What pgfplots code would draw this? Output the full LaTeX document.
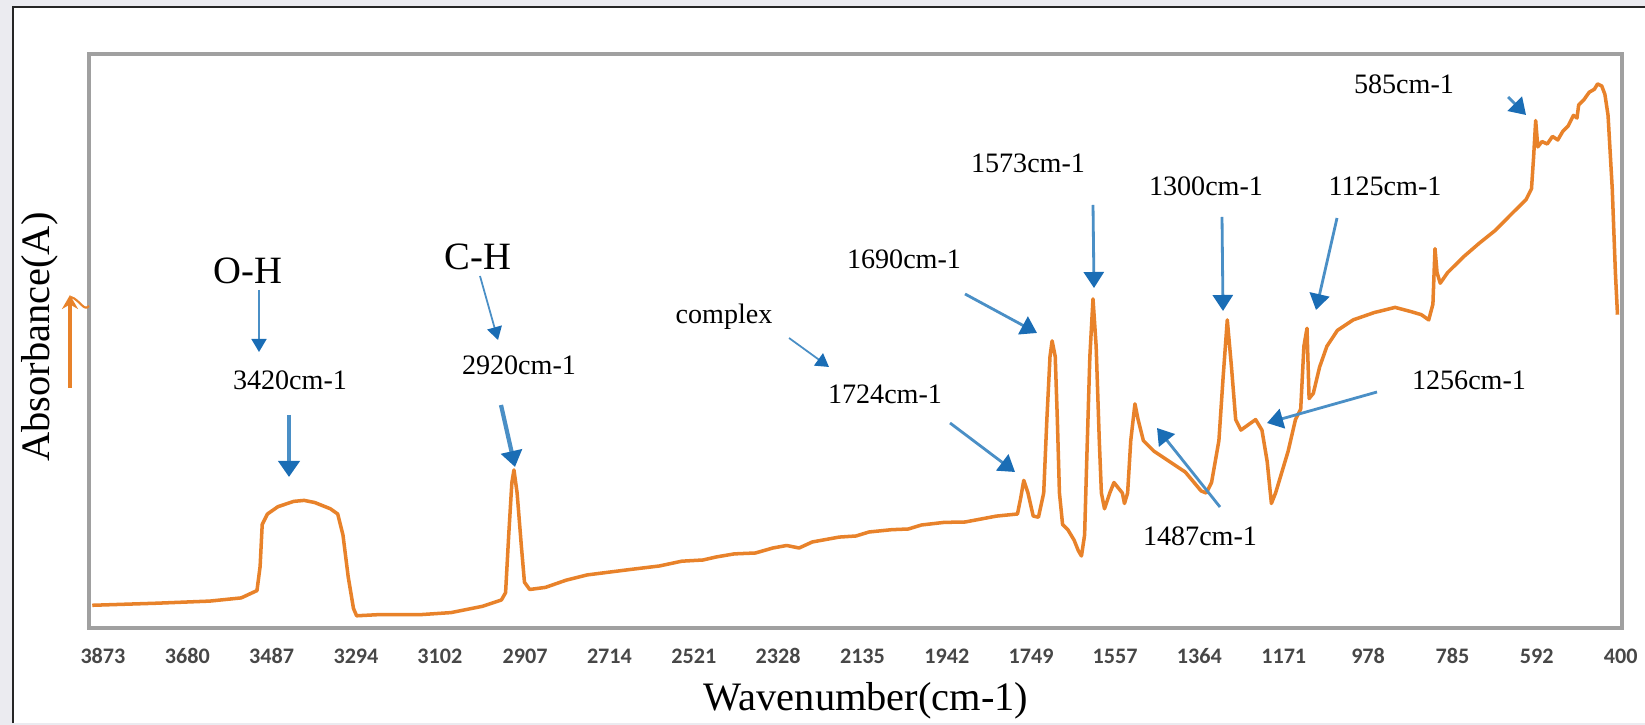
\documentclass[border=0pt]{standalone}
\usepackage{fontspec}
\setmainfont{Liberation Serif}
\newfontfamily\tickfont{Carlito}
\usepackage{pgfplots}
\pgfplotsset{compat=1.18}
\usetikzlibrary{arrows.meta}
\definecolor{spec}{HTML}{E8822A}
\definecolor{boxgray}{HTML}{A0A0A0}
\definecolor{arrline}{HTML}{4A8FC6}
\definecolor{arrhead}{HTML}{1A6DB5}
\definecolor{bg}{HTML}{EBEBF0}
\newcommand{\ann}{\fontsize{8}{9.6}\selectfont}
\newcommand{\bigann}{\fontsize{11}{13}\selectfont}
\begin{document}
\begin{tikzpicture}
\path[use as bounding box] (0,0) rectangle (164.5mm,72.5mm);
\fill[bg] (0,0) rectangle (164.5mm,72.5mm);
\begin{scope}[x=0.1mm,y=-0.1mm,shift={(0mm,72.5mm)}]
\fill[white] (13,7) rectangle (1645,723);
\draw[line width=0.6pt, black!85] (13,723) -- (13,7) -- (1645,7);
\end{scope}
\begin{axis}[at={(8.9mm,9.7mm)}, anchor=south west, scale only axis,
  width=153.3mm, height=57.4mm,
  xmin=397, xmax=3905, ymin=0, ymax=574, x dir=reverse,
  axis line style={boxgray, line width=1pt},
  ytick=\empty,
  xtick={3873,3680,3487,3294,3102,2907,2714,2521,2328,2135,1942,1749,1557,1364,1171,978,785,592,400},
  xticklabels={3873,3680,3487,3294,3102,2907,2714,2521,2328,2135,1942,1749,1557,1364,1171,978,785,592,400},
  major tick length=0pt,
  xticklabel style={font=\tickfont\bfseries\fontsize{6.3}{7}\selectfont, text=black!72, anchor=center, yshift=-2.8mm},
  clip=false]
\addplot[spec, line width=1pt, line join=round] coordinates {
(3897.5,22.7) (3748.6,24.8) (3628.6,26.9) (3556.6,30.1) (3520.6,37.4) (3513.4,61.5)
(3508.6,103.5) (3496.6,114.0) (3472.6,121.3) (3436.6,126.6) (3412.6,127.6) (3388.6,125.5)
(3352.6,119.2) (3335.8,114.0) (3323.8,93.0) (3311.8,51.1) (3299.8,19.6) (3292.6,12.2)
(3244.6,13.3) (3148.5,13.3) (3076.5,15.4) (3004.5,21.7) (2961.3,28.0) (2951.7,35.3)
(2944.5,93.0) (2937.3,145.5) (2932.5,158.0) (2925.3,135.0) (2915.7,82.5) (2908.5,45.8)
(2896.5,38.5) (2860.5,40.6) (2812.5,47.9) (2764.5,53.1) (2668.5,58.4) (2600,62) (2548.4,66.8)
(2500,68) (2470,71) (2428.4,74.1) (2380,75) (2340,80) (2308.4,82.5) (2280,80) (2250,86)
(2188.4,90.9) (2150,92) (2120,96) (2068.4,98.3) (2030,99) (2000,103) (1948.3,105.6)
(1900,106) (1828.3,111.9) (1780.3,114.0) (1773.1,129.7) (1765.9,147.6) (1756.3,135.0)
(1744.3,111.9) (1732.3,110.8) (1720.3,135.0) (1713.1,208.4) (1705.9,271.3) (1701.1,287.1)
(1693.9,271.3) (1689.1,208.4) (1684.3,135.0) (1677.1,103.5) (1665.1,98.3) (1650.7,87.8)
(1641.1,77.3) (1633.9,72.0) (1626.7,93.0) (1621.9,166.4) (1614.7,271.3) (1607.5,329.0)
(1600.3,281.8) (1593.1,187.4) (1588.3,135.0) (1581.1,119.2) (1569.1,135.0) (1559.5,145.5)
(1549.9,140.2) (1540.3,135.0) (1535.5,124.5) (1528.3,135.0) (1521.1,187.4) (1511.5,224.1)
(1504.3,208.4) (1492.3,187.4) (1468.3,176.9) (1432.3,166.4) (1396.2,155.9) (1360.2,137.1)
(1348.2,135.0) (1336.2,145.5) (1319.4,187.4) (1309.8,250.4) (1300.2,308.1) (1290.6,260.9)
(1281.0,208.4) (1269.0,197.9) (1252.2,203.2) (1235.4,208.4) (1220.9,197.9) (1208.9,166.4)
(1199.3,124.5) (1189.7,135.0) (1175.3,155.9) (1160.9,176.9) (1144.2,208.4) (1132.2,218.9)
(1124.9,281.8) (1117.8,299.7) (1113.0,229.4) (1103.4,234.6) (1089.0,260.9) (1072.2,281.8)
(1048.2,297.6) (1012.2,308.1) (964.2,315.4) (916.2,320.6) (880.1,316.4) (856.1,313.3)
(839.3,308.1) (829.7,323.8) (824.9,379.4) (820.2,355.3) (812.9,344.8) (796.2,355.3)
(760.1,371.0) (724.1,384.6) (688.1,397.2) (652.1,413.0) (616.1,428.7) (604.1,439.2)
(599.3,470.7) (594.5,507.4) (589.7,481.1) (580.1,486.4) (568,484) (556.1,491.6) (544,488)
(532.1,496.9) (520.1,502.1) (508.1,512.6) (500,510) (496.1,523.1) (484.1,528.3)
(472.1,535.7) (460.1,538.8) (452.9,544.1) (443.3,542.0) (436.1,533.6) (428.9,512.6)
(419.3,439.2) (412.1,355.3) (407.3,313.3)
};
\end{axis}
\begin{scope}[x=0.1mm,y=-0.1mm,shift={(0mm,72.5mm)}]
% little orange marker at left
\draw[spec, line width=1.1pt, -{Stealth[length=1.4mm,width=1.6mm]}] (70,388) -- (70,295);
\draw[spec, line width=0.6pt] (71,297) .. controls (80,300) and (84,312) .. (89,306);
% axis titles
\node[rotate=90, font=\fontsize{11.5}{13}\selectfont] at (40,337) {Absorbance(A)};
\node[font=\fontsize{11.5}{13}\selectfont] at (866,701) {Wavenumber(cm-1)};
% annotations
\node[font=\bigann] at (248,271) {O-H};
\node[font=\bigann] at (478,257) {C-H};
\node[font=\ann] at (290,380) {3420cm-1};
\node[font=\ann] at (519,365) {2920cm-1};
\node[font=\ann] at (724,317) {complex};
\node[font=\ann] at (885,394) {1724cm-1};
\node[font=\ann] at (904,259) {1690cm-1};
\node[font=\ann] at (1028,163) {1573cm-1};
\node[font=\ann] at (1206,186) {1300cm-1};
\node[font=\ann] at (1385,186) {1125cm-1};
\node[font=\ann] at (1469,380) {1256cm-1};
\node[font=\ann] at (1200,536) {1487cm-1};
\node[font=\ann] at (1404,84) {585cm-1};
% arrows
\tikzset{
 thinarr/.style={arrline, line width=0.5pt, -{Triangle[length=1.3mm,width=1.5mm,color=arrhead]}},
 medarr/.style={arrline, line width=0.8pt, -{Triangle[length=1.6mm,width=2.0mm,color=arrhead]}},
 thickarr/.style={arrline, line width=1.2pt, -{Triangle[length=1.6mm,width=2.1mm,color=arrhead]}}}
\draw[thinarr] (259,290) -- (259,352);
\draw[thinarr] (480,276) -- (498,340);
\draw[thinarr] (789,338) -- (829,367);
\draw[thickarr] (289,415) -- (289,477);
\draw[thickarr] (501,405) -- (515,467);
\draw[medarr] (950,423) -- (1015,472);
\draw[medarr] (965,294) -- (1037,333);
\draw[medarr] (1093,205) -- (1094,288);
\draw[medarr] (1222,217) -- (1223,311);
\draw[medarr] (1337,218) -- (1316,310);
\draw[medarr] (1377,392) -- (1267,423);
\draw[medarr] (1220,507) -- (1157,428);
\draw[medarr] (1508,97) -- (1526,115);
\end{scope}
\end{tikzpicture}
\end{document}
